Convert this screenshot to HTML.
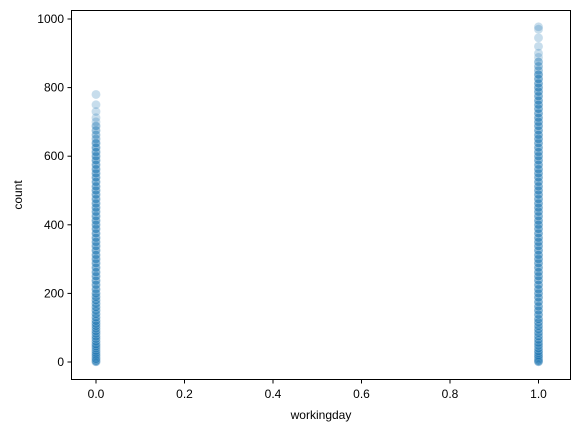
<!DOCTYPE html>
<html><head><meta charset="utf-8"><style>
body{margin:0;background:#fff;}
svg{display:block;font-family:"Liberation Sans",sans-serif;}
</style></head><body>
<svg id="chart" width="580" height="432" viewBox="0 0 580 432">
<g id="plot"></g>
<rect x="71.5" y="10.5" width="499" height="369" fill="none" stroke="#000" stroke-width="1"/>
<g id="xt"></g>
<g id="yt"></g>
<text x="321" y="419" text-anchor="middle" font-size="12">workingday</text>
<text transform="translate(22,195) rotate(-90)" text-anchor="middle" font-size="12">count</text>
</svg>
<script>
const xTicks=[0.0,0.2,0.4,0.6,0.8,1.0];
const xTickLabels=["0.0","0.2","0.4","0.6","0.8","1.0"];
const yTicks=[0,200,400,600,800,1000];
const yTickLabels=["0","200","400","600","800","1000"];
const countsNonWorking=[1,2,3,5,8,10,14,18,22,27,33,40,46,52,60,68,75,83,90,98,105,112,120,130,140,150,160,170,180,190,200,212,225,237,250,262,275,288,300,312,325,338,350,362,375,388,400,412,425,438,450,462,475,488,500,512,525,538,550,562,575,588,600,612,625,638,650,662,675,688,700,712,730,750,780];
const countsWorking=[1,2,3,5,8,12,16,20,26,32,40,48,56,65,75,85,95,105,115,125,138,150,162,175,188,200,212,225,238,250,262,275,288,300,312,325,338,350,362,375,388,400,412,425,438,450,462,475,488,500,512,525,538,550,562,575,588,600,612,625,638,650,662,675,688,700,712,725,738,750,762,775,788,800,812,825,838,850,862,875,888,900,920,945,970,977];
const xS=v=>96+v*442.5;
const yS=v=>362-v*0.343;
const NS="http://www.w3.org/2000/svg";
const plot=document.getElementById('plot');
function dots(xv,arr){
  for(const c of arr){
    const e=document.createElementNS(NS,'circle');
    
    
    e.setAttribute('cx',xS(xv));e.setAttribute('cy',yS(c));e.setAttribute('r',4.5);
    e.setAttribute('fill','rgba(31,119,180,0.25)');e.setAttribute('stroke','rgba(255,255,255,0.2)');e.setAttribute('stroke-width','0.75');
    plot.appendChild(e);
  }
}
dots(0,countsNonWorking);dots(0,countsNonWorking.filter(c=>c<700));dots(0,countsNonWorking.filter(c=>c<640));
dots(1,countsWorking);dots(1,countsWorking.filter(c=>c<880));dots(1,countsWorking.filter(c=>c<850));
const xt=document.getElementById('xt'),yt=document.getElementById('yt');
xTicks.forEach((t,i)=>{
  const l=document.createElementNS(NS,'line');
  
  
  l.setAttribute('x1',xS(t));l.setAttribute('x2',xS(t));l.setAttribute('y1',379.5);l.setAttribute('y2',383.5);l.setAttribute('stroke','#000');
  xt.appendChild(l);
  const tx=document.createElementNS(NS,'text');
  
  
  tx.setAttribute('x',xS(t));tx.setAttribute('y',398);tx.setAttribute('text-anchor','middle');tx.setAttribute('font-size','12');
  tx.textContent=xTickLabels[i];xt.appendChild(tx);
});
yTicks.forEach((t,i)=>{
  const l=document.createElementNS(NS,'line');
  
  
  l.setAttribute('x1',67.5);l.setAttribute('x2',71.5);l.setAttribute('y1',yS(t));l.setAttribute('y2',yS(t));l.setAttribute('stroke','#000');
  yt.appendChild(l);
  const tx=document.createElementNS(NS,'text');
  
  
  tx.setAttribute('x',64);tx.setAttribute('y',yS(t)+4);tx.setAttribute('text-anchor','end');tx.setAttribute('font-size','12');
  tx.textContent=yTickLabels[i];yt.appendChild(tx);
});
</script>
</body></html>
